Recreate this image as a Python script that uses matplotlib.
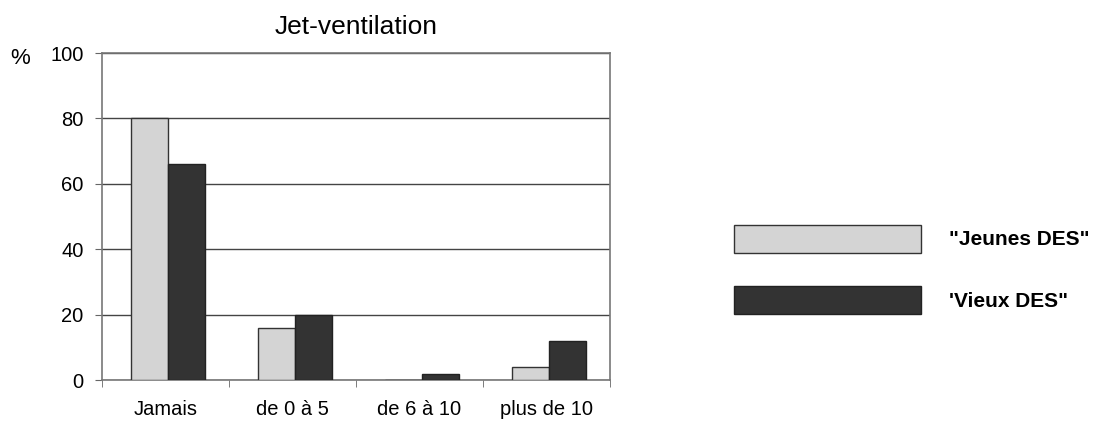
import matplotlib.pyplot as plt
import numpy as np

plt.rcParams['font.family'] = ['Liberation Sans', 'DejaVu Sans']

categories = ['Jamais', 'de 0 à 5', 'de 6 à 10', 'plus de 10']
jeunes = [80, 16, 0, 4]
vieux = [66, 20, 2, 12]
labels = ['"Jeunes DES"', '\'Vieux DES"']
yticks = [0, 20, 40, 60, 80, 100]

fig = plt.figure(figsize=(11.05, 4.21), dpi=100)
ax = fig.add_axes([0.092, 0.097, 0.46, 0.777])

x = np.arange(len(categories))
w = 0.29
b1 = ax.bar(x - w / 2 + 0.02, jeunes, w, color='#d4d4d4', edgecolor='#333333', linewidth=1, label=labels[0], zorder=3)
b2 = ax.bar(x + w / 2 + 0.02, vieux, w, color='#333333', edgecolor='#222222', linewidth=1, label=labels[1], zorder=3)

ax.set_xlim(-0.5, len(categories) - 0.5)
ax.set_ylim(0, 100)
ax.set_yticks(yticks)
ax.tick_params(axis='y', labelsize=14.5, length=5, color='#666666', pad=8)
ax.set_xticks(x)
ax.set_xticklabels(categories)
ax.tick_params(axis='x', which='major', length=0, labelsize=14.5, pad=14)
ax.set_xticks(np.arange(-0.5, len(categories)), minor=True)
ax.tick_params(axis='x', which='minor', length=5, color='#666666')
ax.yaxis.grid(True, color='#444444', linewidth=1, zorder=0)
for s in ax.spines.values():
    s.set_color('#777777')
    s.set_linewidth(1.2)

ax.set_title('Jet-ventilation', fontsize=19, pad=14)
fig.text(0.009, 0.848, '%', fontsize=16)

fig.legend(handles=[b1, b2], labels=labels, loc='center left', bbox_to_anchor=(0.647, 0.36),
           frameon=False, handlelength=9.0, handleheight=1.7, labelspacing=1.6,
           handletextpad=1.35, prop={'weight': 'bold', 'size': 15})

fig.savefig('out.png', dpi=100)
